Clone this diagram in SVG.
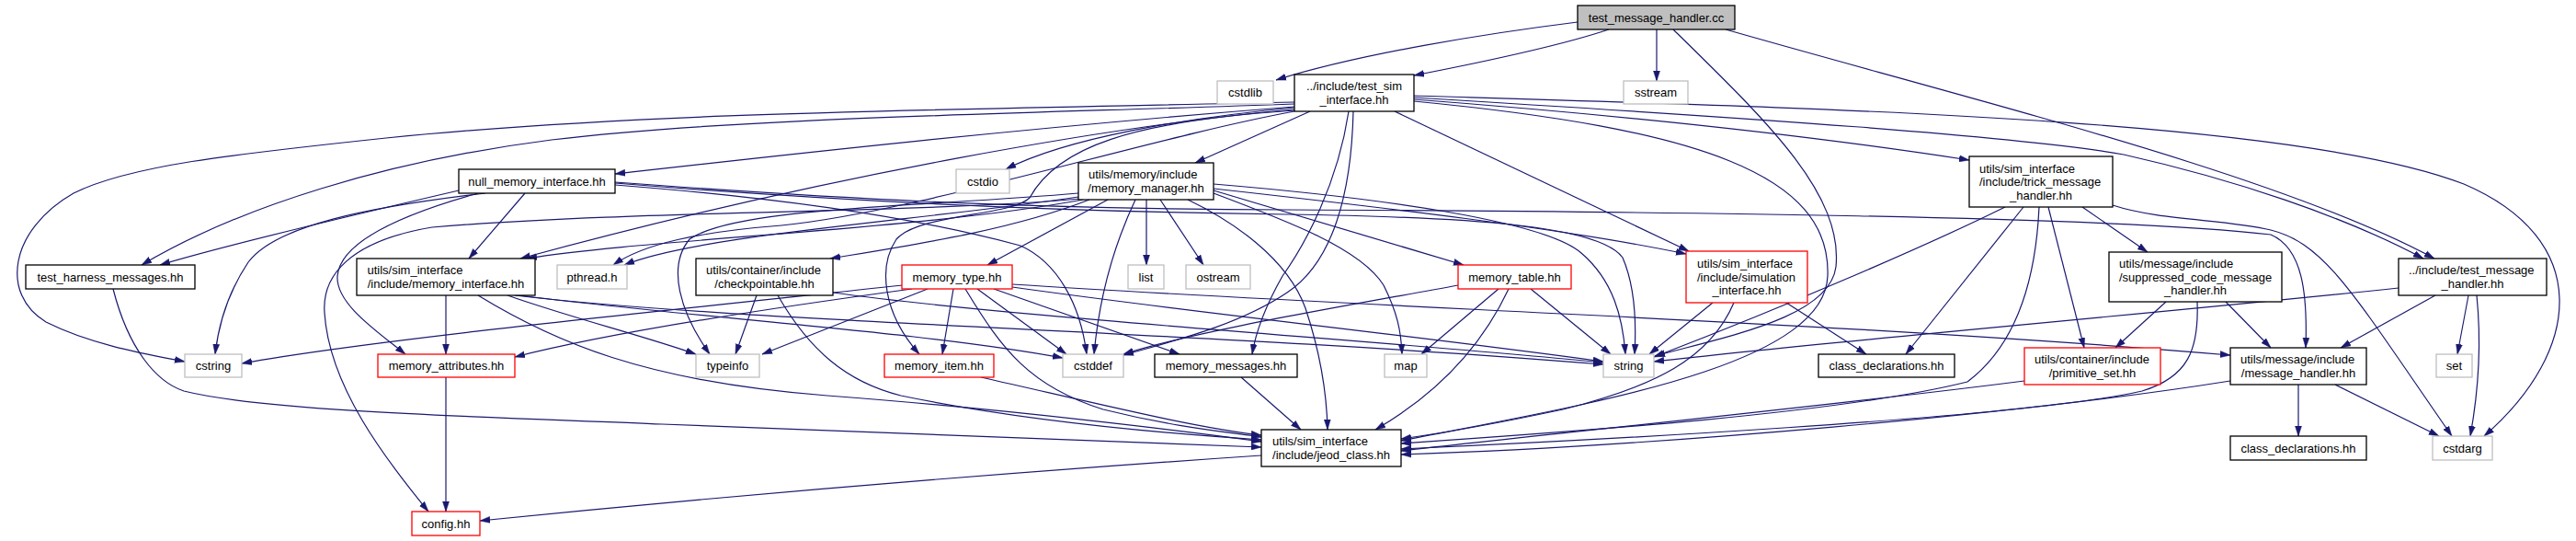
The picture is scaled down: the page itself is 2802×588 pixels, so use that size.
<svg xmlns="http://www.w3.org/2000/svg" width="2802" height="588" viewBox="0 0 2802 588">
<style>
.n rect{fill:#fff;stroke:#000;stroke-width:1.3}
.g rect{stroke:#bfbfbf}
.r rect{stroke:#f00}
.root rect{fill:#bfbfbf}
text{font-family:"Liberation Sans",Arial,Helvetica,sans-serif;font-size:13px;fill:#000}
.m{text-anchor:middle}
#edges path{fill:none;stroke:#191970;stroke-width:1.2;marker-end:url(#ah)}
</style>
<defs>
<marker id="ah" viewBox="0 0 11 8" markerWidth="11" markerHeight="8" refX="11" refY="4" orient="auto" markerUnits="userSpaceOnUse">
<path d="M0,0.5 L11,4 L0,7.5 z" fill="#191970" stroke="#191970" stroke-width="0.5"/>
</marker>
</defs>
<rect x="0" y="0" width="2802" height="588" fill="#fff"/>
<g id="edges">
<path d="M1716,24 C1620,36 1480,58 1388,87"/>
<path d="M1750,32 C1690,52 1600,70 1538,82"/>
<path d="M1802,32 L1802,88"/>
<path d="M1820,32 C1920,130 2005,210 1997,290 C1990,345 1880,365 1800,387"/>
<path d="M1877,32 C2150,110 2480,190 2648,281"/>
<path d="M1538,106 C1900,128 2200,148 2310,168 C2430,195 2550,235 2636,281"/>
<path d="M1538,108 C1800,128 2000,152 2142,174"/>
<path d="M1538,104 C2000,118 2500,130 2680,200 C2820,260 2810,380 2702,474"/>
<path d="M1517,121 L1837,273"/>
<path d="M1538,110 C1850,140 1992,190 1988,300 C1984,400 1720,440 1524,479"/>
<path d="M1425,121 L1300,177"/>
<path d="M1467,121 C1455,200 1420,265 1395,300 C1378,330 1366,360 1362,385"/>
<path d="M1472,121 C1470,210 1450,285 1400,318 C1345,355 1270,372 1222,386"/>
<path d="M1408,117 C1290,128 1160,150 1094,184"/>
<path d="M1408,116 C1100,140 820,172 669,189"/>
<path d="M1408,113 C1100,124 800,128 600,152 C420,175 260,225 154,288"/>
<path d="M1408,111 C1000,120 700,122 420,150 C250,168 140,180 80,210 C10,250 0,320 50,350 C100,375 160,385 201,393"/>
<path d="M1408,119 C1220,135 900,190 566,281"/>
<path d="M1408,120 C1230,132 1150,160 1120,215 C1100,235 1000,232 975,260 C955,290 960,340 1000,385"/>
<path d="M1408,121 C1250,150 1000,230 850,245 C760,252 700,265 667,288"/>
<path d="M1173,214 C1000,240 760,255 679,288"/>
<path d="M1178,217 C1000,250 700,260 573,281"/>
<path d="M1185,217 C1100,250 1000,265 903,281"/>
<path d="M1173,210 C1000,225 800,225 750,260 C725,290 740,340 772,385"/>
<path d="M1175,216 C1000,232 700,228 470,247 C380,262 350,300 353,340 C358,420 420,500 466,556"/>
<path d="M1205,217 L1074,288"/>
<path d="M1247,217 L1247,288"/>
<path d="M1262,217 L1309,288"/>
<path d="M1235,217 C1210,270 1195,330 1190,385"/>
<path d="M1292,217 C1340,240 1400,280 1420,335 C1435,380 1443,420 1444,467"/>
<path d="M1320,210 C1400,240 1480,270 1505,310 C1520,340 1524,360 1525,385"/>
<path d="M1320,207 L1592,288"/>
<path d="M1320,205 C1500,225 1700,248 1834,276"/>
<path d="M1320,200 C1500,215 1680,240 1720,275 C1755,305 1765,345 1768,385"/>
<path d="M499,207 C400,230 250,265 174,288"/>
<path d="M528,210 C400,225 300,245 270,285 C250,315 238,350 234,385"/>
<path d="M520,210 C430,235 370,265 367,300 C365,330 410,360 441,385"/>
<path d="M571,210 L510,281"/>
<path d="M669,201 C850,215 1000,237 1110,267 C1150,285 1175,330 1182,385"/>
<path d="M669,198 C900,215 1100,227 1400,228 C1800,230 2300,235 2470,255 C2505,270 2510,320 2508,378"/>
<path d="M669,199 C900,218 1150,230 1400,233 C1600,236 1740,245 1765,280 C1778,310 1780,350 1778,385"/>
<path d="M485,321 L485,385"/>
<path d="M552,321 C620,345 700,365 757,385"/>
<path d="M565,321 C750,345 1000,360 1156,389"/>
<path d="M560,321 C800,350 1300,360 1744,396"/>
<path d="M520,321 C600,370 700,415 900,430 C1100,445 1300,470 1372,480"/>
<path d="M123,314 C140,380 170,415 200,425 C300,450 600,455 720,461 C1000,472 1250,480 1372,486"/>
<path d="M823,321 L800,385"/>
<path d="M846,321 C880,380 920,415 980,430 C1100,455 1250,470 1372,478"/>
<path d="M906,318 C1100,345 1500,370 1744,394"/>
<path d="M982,310 C700,340 400,370 263,395"/>
<path d="M992,314 C800,340 650,365 560,388"/>
<path d="M1009,314 L829,385"/>
<path d="M1037,314 L1025,385"/>
<path d="M1063,314 L1160,385"/>
<path d="M1081,314 L1283,385"/>
<path d="M1050,314 C1090,380 1120,420 1200,445 C1280,465 1340,470 1372,475"/>
<path d="M1101,309 C1500,335 2000,350 2426,386"/>
<path d="M1101,312 C1300,340 1500,360 1744,393"/>
<path d="M1067,410 C1200,440 1300,465 1372,473"/>
<path d="M1350,410 L1415,467"/>
<path d="M1586,310 C1450,335 1300,360 1222,385"/>
<path d="M1630,314 L1546,385"/>
<path d="M1641,314 C1610,380 1560,430 1496,467"/>
<path d="M1665,314 L1752,385"/>
<path d="M1863,329 L1794,385"/>
<path d="M1886,329 C1860,390 1800,420 1700,445 C1620,462 1560,472 1524,477"/>
<path d="M1943,329 L2030,385"/>
<path d="M2181,225 C2100,265 1950,330 1799,388"/>
<path d="M2201,225 L2073,385"/>
<path d="M2218,225 C2215,290 2200,370 2140,415 C2000,450 1700,470 1524,482"/>
<path d="M2228,225 L2267,378"/>
<path d="M2265,225 L2336,274"/>
<path d="M2298,223 C2350,240 2420,238 2470,250 C2530,265 2560,320 2667,474"/>
<path d="M2356,328 L2301,378"/>
<path d="M2421,328 L2470,378"/>
<path d="M2390,328 C2392,380 2380,410 2330,425 C2200,455 1700,480 1524,488"/>
<path d="M2609,313 C2300,345 2000,370 1799,393"/>
<path d="M2649,321 L2546,378"/>
<path d="M2685,321 L2673,385"/>
<path d="M2694,321 C2700,380 2695,430 2687,474"/>
<path d="M2202,414 C2000,440 1700,470 1524,490"/>
<path d="M2500,418 L2500,474"/>
<path d="M2540,418 L2653,474"/>
<path d="M2426,414 C2200,450 1800,485 1524,494"/>
<path d="M485,410 L485,556"/>
<path d="M1372,495 C1000,520 700,548 522,566"/>
</g>
<g id="test_message_handler_cc" class="n root"><rect x="1716" y="6" width="171" height="26"/><text class="m" x="1801.5" y="23.5">test_message_handler.cc</text></g>
<g id="test_sim_interface" class="n"><rect x="1408" y="81" width="130" height="40"/><text x="1421" y="98">../include/test_sim</text><text class="m" x="1473" y="113">_interface.hh</text></g>
<g id="cstdlib" class="n g"><rect x="1324" y="88" width="61" height="25"/><text class="m" x="1354.5" y="105">cstdlib</text></g>
<g id="sstream" class="n g"><rect x="1766" y="88" width="70" height="25"/><text class="m" x="1801" y="105">sstream</text></g>
<g id="null_memory_interface" class="n"><rect x="499" y="184" width="170" height="26"/><text class="m" x="584" y="201.5">null_memory_interface.hh</text></g>
<g id="cstdio" class="n g"><rect x="1040" y="184" width="58" height="26"/><text class="m" x="1069" y="201.5">cstdio</text></g>
<g id="memory_manager" class="n"><rect x="1173" y="177" width="147" height="40"/><text x="1184" y="194">utils/memory/include</text><text class="m" x="1246.5" y="209">/memory_manager.hh</text></g>
<g id="trick_message_handler" class="n"><rect x="2142" y="170" width="156" height="55"/><text x="2153" y="187.5">utils/sim_interface</text><text x="2153" y="202">/include/trick_message</text><text class="m" x="2220" y="216.5">_handler.hh</text></g>
<g id="test_harness_messages" class="n"><rect x="28" y="288" width="184" height="26"/><text class="m" x="120" y="305.5">test_harness_messages.hh</text></g>
<g id="memory_interface" class="n"><rect x="388" y="281" width="194" height="40"/><text x="399.5" y="298">utils/sim_interface</text><text class="m" x="485" y="313">/include/memory_interface.hh</text></g>
<g id="pthread_h" class="n g"><rect x="606" y="288" width="76" height="26"/><text class="m" x="644" y="305.5">pthread.h</text></g>
<g id="checkpointable" class="n"><rect x="757" y="281" width="149" height="40"/><text x="768" y="298">utils/container/include</text><text class="m" x="831.5" y="313">/checkpointable.hh</text></g>
<g id="memory_type" class="n r"><rect x="981" y="288" width="120" height="26"/><text class="m" x="1041" y="305.5">memory_type.hh</text></g>
<g id="list" class="n g"><rect x="1227" y="288" width="39" height="26"/><text class="m" x="1246.5" y="305.5">list</text></g>
<g id="ostream" class="n g"><rect x="1290" y="288" width="70" height="26"/><text class="m" x="1325" y="305.5">ostream</text></g>
<g id="memory_table" class="n r"><rect x="1586" y="288" width="123" height="26"/><text class="m" x="1647.5" y="305.5">memory_table.hh</text></g>
<g id="simulation_interface" class="n r"><rect x="1834" y="273" width="132" height="56"/><text x="1846" y="291">utils/sim_interface</text><text x="1846" y="305.5">/include/simulation</text><text class="m" x="1900" y="320">_interface.hh</text></g>
<g id="suppressed_code_message_handler" class="n"><rect x="2294" y="274" width="188" height="54"/><text x="2305" y="291">utils/message/include</text><text x="2305" y="305.5">/suppressed_code_message</text><text class="m" x="2388" y="320">_handler.hh</text></g>
<g id="test_message_handler_hh" class="n"><rect x="2609" y="281" width="161" height="40"/><text x="2620" y="298">../include/test_message</text><text class="m" x="2689.5" y="313">_handler.hh</text></g>
<g id="cstring" class="n g"><rect x="201" y="385" width="62" height="25"/><text class="m" x="232" y="402">cstring</text></g>
<g id="memory_attributes" class="n r"><rect x="411" y="385" width="149" height="25"/><text class="m" x="485.5" y="402">memory_attributes.hh</text></g>
<g id="typeinfo" class="n g"><rect x="757" y="385" width="69" height="25"/><text class="m" x="791.5" y="402">typeinfo</text></g>
<g id="memory_item" class="n r"><rect x="962" y="385" width="119" height="25"/><text class="m" x="1021.5" y="402">memory_item.hh</text></g>
<g id="cstddef" class="n g"><rect x="1156" y="385" width="66" height="25"/><text class="m" x="1189" y="402">cstddef</text></g>
<g id="memory_messages" class="n"><rect x="1256" y="385" width="155" height="25"/><text class="m" x="1333.5" y="402">memory_messages.hh</text></g>
<g id="map" class="n g"><rect x="1506" y="385" width="46" height="25"/><text class="m" x="1529" y="402">map</text></g>
<g id="string" class="n g"><rect x="1744" y="385" width="55" height="25"/><text class="m" x="1771.5" y="402">string</text></g>
<g id="class_declarations_1" class="n"><rect x="1978" y="385" width="148" height="25"/><text class="m" x="2052" y="402">class_declarations.hh</text></g>
<g id="primitive_set" class="n r"><rect x="2202" y="378" width="148" height="40"/><text x="2213" y="395">utils/container/include</text><text class="m" x="2276" y="410">/primitive_set.hh</text></g>
<g id="message_handler" class="n"><rect x="2426" y="378" width="148" height="40"/><text x="2437" y="395">utils/message/include</text><text class="m" x="2500" y="410">/message_handler.hh</text></g>
<g id="set" class="n g"><rect x="2650" y="385" width="39" height="25"/><text class="m" x="2669.5" y="402">set</text></g>
<g id="jeod_class" class="n"><rect x="1372" y="467" width="152" height="40"/><text x="1384" y="484">utils/sim_interface</text><text class="m" x="1448" y="499">/include/jeod_class.hh</text></g>
<g id="class_declarations_2" class="n"><rect x="2426" y="474" width="148" height="26"/><text class="m" x="2500" y="491.5">class_declarations.hh</text></g>
<g id="cstdarg" class="n g"><rect x="2646" y="474" width="65" height="26"/><text class="m" x="2678.5" y="491.5">cstdarg</text></g>
<g id="config" class="n r"><rect x="448" y="556" width="74" height="26"/><text class="m" x="485" y="573.5">config.hh</text></g>
</svg>
